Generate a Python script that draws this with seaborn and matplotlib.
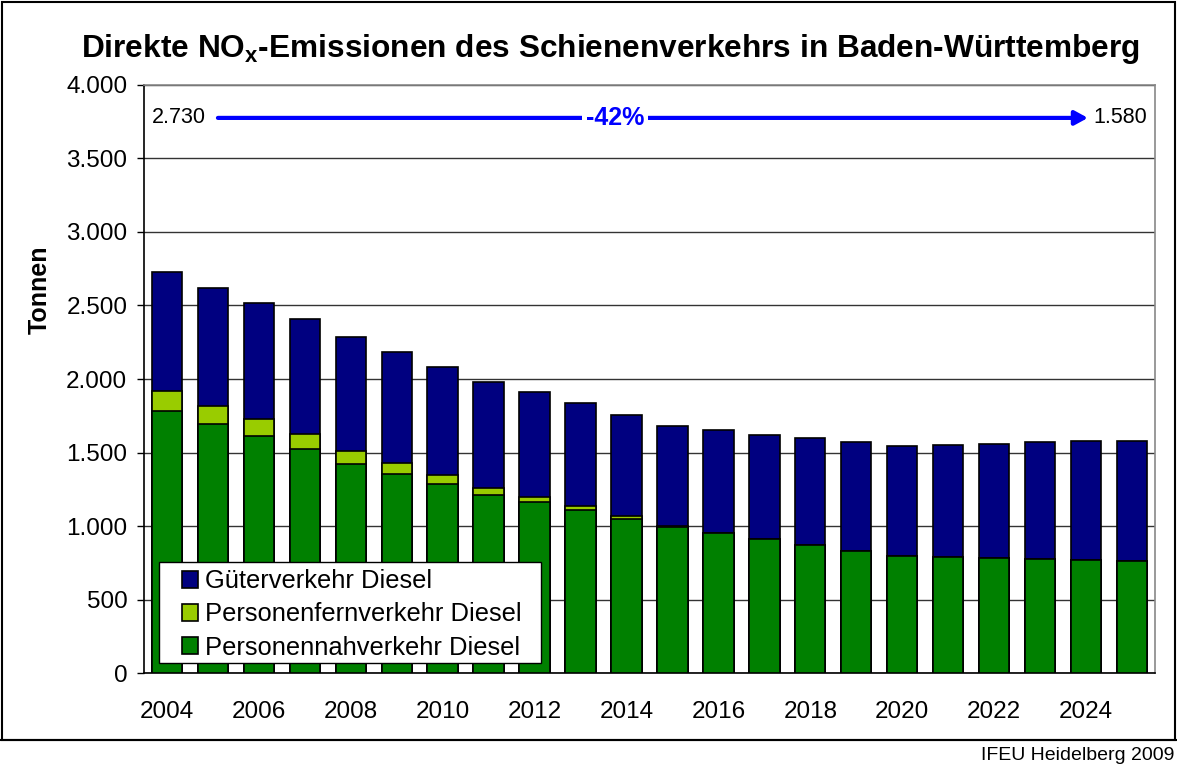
import numpy as np
import pandas as pd
import seaborn as sns
import matplotlib.pyplot as plt
from matplotlib.patches import Patch, Rectangle

years = list(range(2004, 2026))
nahverkehr = [1784, 1694, 1614, 1526, 1422, 1354, 1284, 1211, 1163, 1109, 1050,
              995, 954, 912, 873, 833, 796, 789, 782, 776, 769, 762]
fernverkehr = [136, 124, 112, 100, 88, 72, 61, 50, 36, 25, 16,
               3, 0, 0, 0, 0, 0, 0, 0, 0, 0, 0]
gueterverkehr = [810, 801, 791, 782, 776, 758, 737, 719, 713, 700, 691,
                 682, 697, 709, 723, 738, 748, 762, 778, 793, 807, 818]
series_names = ["Güterverkehr Diesel", "Personenfernverkehr Diesel",
                "Personennahverkehr Diesel"]
colors = ["#000080", "#99CC00", "#008000"]

df = pd.DataFrame({"Jahr": [str(y) for y in years],
                   "nah": nahverkehr, "fern": fernverkehr, "gueter": gueterverkehr})
df["nah_fern"] = df["nah"] + df["fern"]
df["gesamt"] = df["nah_fern"] + df["gueter"]

sns.set_style("white")
plt.rcParams["font.family"] = ["Liberation Sans", "DejaVu Sans"]
for key in ["text.color", "axes.labelcolor", "xtick.color", "ytick.color"]:
    plt.rcParams[key] = "black"

fig = plt.figure(figsize=(11.77, 7.69), dpi=100)
ax = fig.add_axes([0.1223, 0.1248, 0.9813 - 0.1223, 0.8895 - 0.1248])

# stacked bars drawn back to front
for col, c in zip(["gesamt", "nah_fern", "nah"], colors):
    sns.barplot(data=df, x="Jahr", y=col, color=c, width=0.66, saturation=1,
                edgecolor="black", linewidth=1.2, ax=ax, zorder=3)

ax.set_ylim(0, 4000)
ax.set_xlim(-0.5, len(years) - 0.5)
ax.set_yticks(np.arange(0, 4001, 500))
ax.set_yticklabels([f"{v:,}".replace(",", ".") for v in range(0, 4001, 500)],
                   fontsize=17.5)
ax.yaxis.grid(True, color="#333333", linewidth=1.0, zorder=0)
ax.set_axisbelow(True)

ax.set_xticks(range(0, len(years), 2))
ax.set_xticklabels([str(y) for y in years[::2]], fontsize=17.5)
ax.set_xticks(np.arange(-0.5, len(years), 1), minor=True)
ax.tick_params(axis="x", which="major", length=0, pad=20)
ax.tick_params(axis="x", which="minor", direction="out", length=6, width=1, color="black")
ax.tick_params(axis="y", direction="out", length=5, width=1, color="black", left=True, pad=7)

ax.set_xlabel("")
ax.set_ylabel("Tonnen", fontsize=18, fontweight="bold", va="center")
ax.yaxis.set_label_coords(-0.1035, 0.651)

for side in ["left", "bottom"]:
    ax.spines[side].set_color("black")
    ax.spines[side].set_linewidth(1.2)
for side in ["right", "top"]:
    ax.spines[side].set_color("#888888")
    ax.spines[side].set_linewidth(1.2)

# legend box drawn separately for the uneven padding
ax.add_patch(Rectangle((0.0148, 0.017), 0.3779, 0.1718, transform=ax.transAxes,
                       facecolor="white", edgecolor="black", lw=1.0, zorder=5))
handles = [Patch(facecolor=c, edgecolor="black", linewidth=1.2) for c in colors]
leg = ax.legend(handles, series_names, loc="upper left", bbox_to_anchor=(0.0376, 0.1765),
                fontsize=18.4, frameon=False, borderaxespad=0, borderpad=0,
                handlelength=0.62, handleheight=0.62, handletextpad=0.3,
                labelspacing=0.36)
leg.set_zorder(6)

# arrow annotation
ax.annotate("", xy=(20.04, 3776), xytext=(1.11, 3776),
            arrowprops=dict(arrowstyle="-|>,head_length=0.55,head_width=0.3",
                            color="#0000FF", lw=3, mutation_scale=14,
                            shrinkA=0, shrinkB=0), zorder=4)
ax.text(9.75, 3776, "-42%", color="#0000FF", fontsize=18, fontweight="bold",
        ha="center", va="center", zorder=5,
        bbox=dict(facecolor="white", edgecolor="none", pad=3))
ax.text(-0.33, 3776, "2.730", fontsize=15.5, ha="left", va="center")
ax.text(20.15, 3776, "1.580", fontsize=15.5, ha="left", va="center")

fig.text(0.5187, 1 - 57 / 769, "Direkte NO$_\\mathregular{x}$-Emissionen des Schienenverkehrs in Baden-Württemberg",
         ha="center", va="baseline", fontsize=22.8, fontweight="bold")

# outer frame and footer
fig.add_artist(plt.Line2D([0, 1], [0.0377, 0.0377], color="black", lw=1.5,
                          transform=fig.transFigure))
fig.add_artist(plt.Rectangle((0.0017, 0.0377), 0.9966, 0.9603, fill=False,
                             edgecolor="black", lw=1.5, transform=fig.transFigure))
fig.text(0.9975, 0.017, "IFEU Heidelberg 2009", ha="right", va="center", fontsize=14)

fig.savefig("out.png", dpi=100)
